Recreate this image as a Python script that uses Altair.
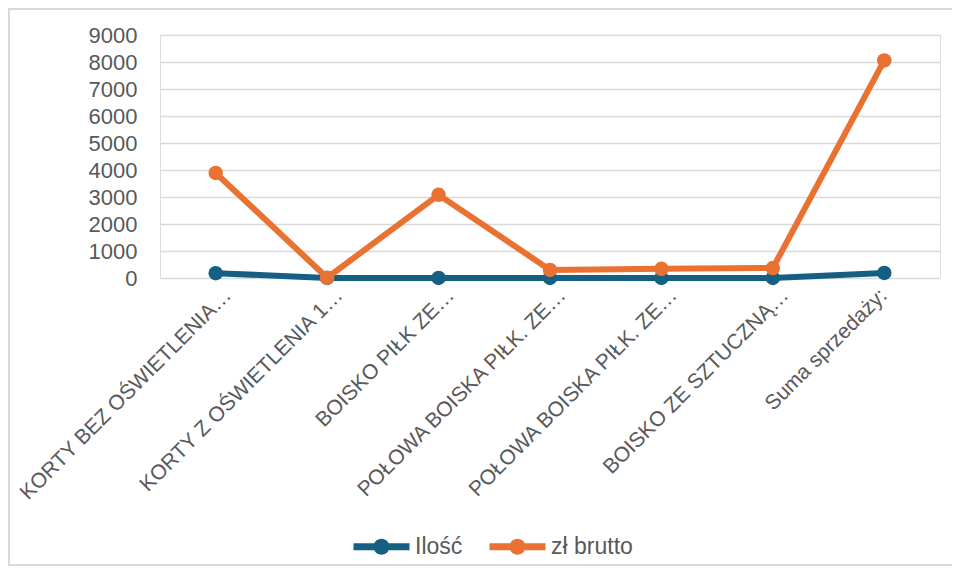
import json
import altair as alt
import pandas as pd

categories = [
    "KORTY BEZ OŚWIETLENIA…",
    "KORTY Z OŚWIETLENIA 1…",
    "BOISKO PIŁK ZE…",
    "POŁOWA BOISKA PIŁK. ZE…",
    "POŁOWA BOISKA PIŁK. ZE…",
    "BOISKO ZE SZTUCZNĄ…",
    "Suma sprzedaży:",
]
ilosc = [180, 2, 2, 1, 1, 1, 187]
brutto = [3890, 10, 3080, 300, 340, 370, 8060]
series = ["Ilość", "zł brutto"]
colors = ["#156082", "#E97132"]
y_ticks = list(range(0, 9001, 1000))

rows = []
for i, v in enumerate(ilosc):
    rows.append({"idx": i, "series": series[0], "value": v})
for i, v in enumerate(brutto):
    rows.append({"idx": i, "series": series[1], "value": v})
df = pd.DataFrame(rows)

label_expr = json.dumps(categories, ensure_ascii=False) + "[datum.value]"
FONT = "Liberation Sans"
TXT = "#595959"

x_enc = alt.X(
    "idx:O",
    title=None,
    scale=alt.Scale(type="point", padding=0.5),
    axis=alt.Axis(
        labelExpr=label_expr,
        labelAngle=-45,
        labelAlign="right",
        labelBaseline="middle",
        labelPadding=14,
        labelOffset={"condition": {"test": "datum.value == 6", "value": -1}, "value": 12},
        labelFontSize=21,
        labelFont=FONT,
        labelColor=TXT,
        ticks=False,
        domain=False,
        grid=False,
        labelOverlap=False,
        labelLimit=400,
    ),
)
y_enc = alt.Y(
    "value:Q",
    title=None,
    scale=alt.Scale(domain=[0, 9000], nice=False),
    axis=alt.Axis(
        values=y_ticks,
        format="d",
        labelFontSize=22,
        labelFont=FONT,
        labelColor=TXT,
        labelPadding=23,
        ticks=False,
        domain=False,
        grid=True,
        gridColor="#d9d9d9",
        gridWidth=1.5,
    ),
)

legend_path = (
    "M-3.5,-0.45L3.5,-0.45L3.5,0.45L-3.5,0.45Z "
    "M0,-1A1,1 0 1 1 0,1A1,1 0 1 1 0,-1Z"
)

color_scale = alt.Scale(domain=series, range=colors)
color_legend = alt.Legend(
    title=None,
    orient="none",
    direction="horizontal",
    legendX=210,
    legendY=500,
    symbolType=legend_path,
    symbolSize=256,
    symbolStrokeWidth=0,
    symbolFillColor="#000000",
    labelOffset=22,
    labelFontSize=23,
    labelFont=FONT,
    labelColor=TXT,
    columnPadding=26,
    padding=0,
)
color_enc = alt.Color("series:N", scale=color_scale, legend=color_legend)

layers = []
for s in series:
    base = alt.Chart(df).transform_filter(alt.datum.series == s)
    line = base.mark_line(strokeWidth=6).encode(x=x_enc, y=y_enc, color=color_enc)
    pts = base.mark_point(filled=True, size=210, opacity=1).encode(
        x=x_enc, y=y_enc, color=color_enc
    )
    layers += [line, pts]

frame_src = alt.Chart(pd.DataFrame({"f": [0]}))
frame_style = dict(color="#d9d9d9", strokeWidth=2, clip=False)
frame_left = frame_src.mark_rule(**frame_style).encode(
    x=alt.value(-151), y=alt.value(-26), y2=alt.value(530)
)
frame_top = frame_src.mark_rule(**frame_style).encode(
    x=alt.value(-152), x2=alt.value(800), y=alt.value(-26)
)
frame_bottom = frame_src.mark_rule(**frame_style).encode(
    x=alt.value(-152), x2=alt.value(800), y=alt.value(530)
)

chart = alt.layer(frame_left, frame_top, frame_bottom, *layers).properties(
    width=780,
    height=243,
    padding={"left": 152, "top": 27, "right": 12, "bottom": 288},
    autosize=alt.AutoSizeParams(type="none"),
).configure_view(stroke=None).configure(background="white")

chart.save("out.html", embed_options={"renderer": "svg", "actions": False})
